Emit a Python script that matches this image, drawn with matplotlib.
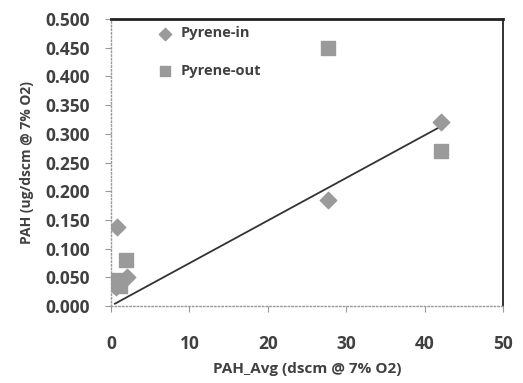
import matplotlib.pyplot as plt

plt.rcParams['font.family'] = ['Open Sans', 'DejaVu Sans']

# data
in_x = [0.8, 2.0, 0.6, 1.0, 27.7, 42.1]
in_y = [0.138, 0.050, 0.033, 0.040, 0.185, 0.320]
out_x = [1.9, 0.8, 1.2, 27.7, 42.1]
out_y = [0.080, 0.045, 0.035, 0.450, 0.270]
trend_x = [0.5, 42.1]
trend_y = [0.004, 0.313]

fig = plt.figure(figsize=(5.23, 3.83), dpi=100)
ax = fig.add_axes([111 / 523, 1 - 306 / 383, 392 / 523, 287 / 383])

gray = '#9a9a9a'
ax.scatter(in_x, in_y, marker='D', s=70, color=gray, label='Pyrene-in', zorder=3)
ax.scatter(out_x, out_y, marker='s', s=110, color=gray, label='Pyrene-out', zorder=3)
ax.plot(trend_x, trend_y, color='#333333', lw=1.3, zorder=2)

ax.set_xlim(0, 50)
ax.set_ylim(0, 0.5)
ax.set_xticks(range(0, 51, 10))
ax.set_yticks([i * 0.05 for i in range(11)])
ax.set_yticklabels([f'{i * 0.05:.3f}' for i in range(11)])

for side in ['top', 'right']:
    ax.spines[side].set_color('#222222')
ax.spines['top'].set_linewidth(2.0)
ax.spines['right'].set_linewidth(1.3)
for side in ['left', 'bottom']:
    ax.spines[side].set_color('#999999')
    ax.spines[side].set_linestyle(':')
    ax.spines[side].set_linewidth(1.0)

ax.tick_params(axis='both', length=4, width=0.8, color='#999999',
               labelsize=12.5, labelcolor='#404040')
ax.tick_params(axis='y', pad=11)
ax.tick_params(axis='x', pad=17)
for lab in ax.get_xticklabels() + ax.get_yticklabels():
    lab.set_fontweight('bold')

ax.set_xlabel('PAH_Avg (dscm @ 7% O2)', fontsize=11, fontweight='bold',
              color='#404040', labelpad=6)
ax.set_ylabel('PAH (ug/dscm @ 7% O2)', fontsize=10, fontweight='bold',
              color='#404040', labelpad=8)

leg = ax.legend(loc='upper left', bbox_to_anchor=(0.067, 1.02), frameon=False,
                fontsize=10.5, labelspacing=1.6, handletextpad=0.1,
                markerscale=0.75, scatterpoints=1)
for t in leg.get_texts():
    t.set_color('#404040')
    t.set_fontweight('bold')

fig.savefig('out.png', dpi=100)
